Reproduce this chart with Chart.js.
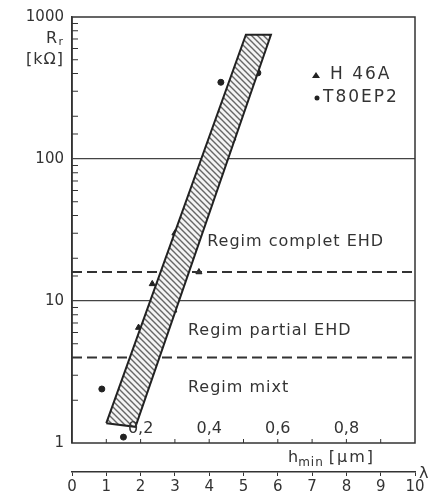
<!DOCTYPE html>
<html>
<head>
<meta charset="utf-8">
<script src="https://cdn.jsdelivr.net/npm/chart.js@4.4.0/dist/chart.umd.min.js"></script>
<style>
  html, body { margin: 0; padding: 0; background: #fff; }
  #wrap { position: relative; width: 433px; height: 497px; }
</style>
</head>
<body>
<div id="wrap"><canvas id="myChart" width="433" height="497"></canvas></div>
<script>
// axis ticks
const lambdaTicks = [0, 1, 2, 3, 4, 5, 6, 7, 8, 9, 10];
const hminValues = [0.2, 0.4, 0.6, 0.8];
const hminLabels = ['0,2', '0,4', '0,6', '0,8'];
const rLabels = [1, 10, 100, 1000];

// measured points, lambda vs Rr [kOhm]
const h46aLambda = [3.0, 3.7, 2.34, 2.97, 1.94, 4.69, 2.0];
const h46aR = [30, 16, 13.2, 8.6, 6.5, 140, 2.1];
const t80Lambda = [4.34, 5.42, 3.75, 0.87, 1.5];
const t80R = [347, 404, 65, 2.4, 1.1];

// hatched scatter band (closed outline)
const bandLambda = [1.0, 5.07, 5.8, 1.85, 1.0];
const bandR = [1.38, 750, 750, 1.3, 1.38];

// regime limits
const regimLimits = [16, 4];
const regimNames = ['Regim complet EHD', 'Regim partial EHD', 'Regim mixt'];

const FONT = 'DejaVu Sans';
const INK = '#333';

function pts(xs, ys) {
  return xs.map((x, i) => ({ x: x, y: ys[i] }));
}

function hatch() {
  const c = document.createElement('canvas');
  c.width = 6; c.height = 6;
  const g = c.getContext('2d');
  g.fillStyle = '#f4f4f4';
  g.fillRect(0, 0, 6, 6);
  g.strokeStyle = '#666';
  g.lineWidth = 1.4;
  g.beginPath();
  g.moveTo(-1, -1); g.lineTo(7, 7);
  g.moveTo(-1, 5); g.lineTo(1, 7);
  g.moveTo(5, -1); g.lineTo(7, 1);
  g.stroke();
  return g.createPattern(c, 'repeat');
}

const datasets = [
  {
    label: 'band',
    data: pts(bandLambda, bandR),
    showLine: true,
    fill: 'shape',
    backgroundColor: hatch(),
    borderColor: '#222',
    borderWidth: 2,
    pointRadius: 0,
    tension: 0,
  },
];
regimLimits.forEach((v) => {
  datasets.push({
    label: 'limit ' + v,
    data: [{ x: 0, y: v }, { x: 10, y: v }],
    showLine: true,
    borderColor: '#333',
    borderWidth: 2,
    borderDash: [10, 5],
    pointRadius: 0,
  });
});
datasets.push({
  label: 'H46A',
  data: pts(h46aLambda, h46aR),
  pointStyle: 'triangle',
  pointRadius: 3.5,
  backgroundColor: '#222',
  borderColor: '#222',
});
datasets.push({
  label: 'T80EP2',
  data: pts(t80Lambda, t80R),
  pointStyle: 'circle',
  pointRadius: 3,
  backgroundColor: '#222',
  borderColor: '#222',
});

function font(size) {
  return size + 'px "' + FONT + '"';
}

const decorations = {
  id: 'decorations',
  afterDraw(chart) {
    const ctx = chart.ctx;
    const a = chart.chartArea;
    const xs = chart.scales.x;
    const ys = chart.scales.y;
    const hs = chart.scales.h;
    ctx.save();
    ctx.strokeStyle = INK;
    ctx.lineWidth = 1.5;
    ctx.strokeRect(a.left, a.top, a.right - a.left, a.bottom - a.top);

    // minor ticks inside the left axis
    ctx.lineWidth = 1;
    ys.ticks.forEach((t) => {
      if (rLabels.includes(t.value)) return;
      const py = ys.getPixelForValue(t.value);
      ctx.beginPath();
      ctx.moveTo(a.left, py);
      ctx.lineTo(a.left + 6, py);
      ctx.stroke();
    });
    // small ticks inside the bottom (h_min) axis
    for (let i = 1; i < 10; i++) {
      const px = hs.getPixelForValue(i / 10);
      ctx.beginPath();
      ctx.moveTo(px, a.bottom);
      ctx.lineTo(px, a.bottom - 4);
      ctx.stroke();
    }

    ctx.fillStyle = INK;
    ctx.font = font(16);
    ctx.letterSpacing = '0px';
    ctx.textAlign = 'center';
    ctx.textBaseline = 'middle';
    hminValues.forEach((v, i) => {
      ctx.fillText(hminLabels[i], hs.getPixelForValue(v), a.bottom - 14);
    });

    // h_min [um]
    ctx.textAlign = 'left';
    ctx.textBaseline = 'alphabetic';
    let tx = 288;
    const ty = a.bottom + 19;
    ctx.fillText('h', tx, ty);
    tx += ctx.measureText('h').width;
    ctx.font = font(12);
    ctx.letterSpacing = '1px';
    ctx.fillText('min', tx, ty + 4);
    tx += ctx.measureText('min').width + 5;
    ctx.font = font(16);
    ctx.letterSpacing = '2px';
    ctx.fillText('[\u03BCm]', tx, ty);
    ctx.letterSpacing = '0px';

    // lambda
    ctx.fillText('\u03BB', 419, 478);

    // y title
    ctx.textAlign = 'right';
    ctx.fillText('R', 57, 43);
    ctx.font = font(11);
    ctx.fillText('r', 63, 45);
    ctx.font = font(16);
    ctx.letterSpacing = '1px';
    ctx.fillText('[k\u03A9]', 64, 64);

    // regime labels
    ctx.textAlign = 'left';
    ctx.textBaseline = 'middle';
    ctx.font = font(16);
    ctx.letterSpacing = '1px';
    ctx.fillText(regimNames[0], xs.getPixelForValue(3.94), ys.getPixelForValue(26));
    ctx.fillText(regimNames[1], xs.getPixelForValue(3.38), ys.getPixelForValue(6.15));
    ctx.fillText(regimNames[2], xs.getPixelForValue(3.38), ys.getPixelForValue(2.44));

    // legend
    ctx.font = font(17);
    ctx.letterSpacing = '2px';
    ctx.fillText('H 46A', 330, 75);
    ctx.fillText('T80EP2', 323, 98);
    ctx.letterSpacing = '0px';
    ctx.fillStyle = '#222';
    ctx.beginPath();
    ctx.moveTo(316, 72);
    ctx.lineTo(320, 78);
    ctx.lineTo(312, 78);
    ctx.closePath();
    ctx.fill();
    ctx.beginPath();
    ctx.arc(317, 98, 2.5, 0, Math.PI * 2);
    ctx.fill();
    ctx.restore();
  },
};

const ctx = document.getElementById('myChart').getContext('2d');
const myChart = new Chart(ctx, {
  type: 'scatter',
  data: { datasets: datasets },
  options: {
    responsive: false,
    animation: false,
    layout: { padding: { left: 0, right: 18, top: 17, bottom: 0 } },
    plugins: { legend: { display: false }, tooltip: { enabled: false } },
    scales: {
      x: {
        type: 'linear',
        position: 'bottom',
        weight: 1,
        min: 0,
        max: 10,
        afterFit: (s) => { s.height = 25; },
        border: { display: true, color: INK, width: 1.5 },
        grid: { drawOnChartArea: false, drawTicks: true, tickLength: 4, color: INK },
        ticks: {
          stepSize: 1,
          padding: 2,
          color: INK,
          font: { family: FONT, size: 15 },
          callback: (v) => (lambdaTicks.includes(v) ? String(v) : ''),
        },
      },
      h: {
        type: 'linear',
        position: 'bottom',
        weight: 0,
        min: 0,
        max: 1,
        afterFit: (s) => { s.height = 29; },
        border: { display: false },
        grid: { display: false },
        ticks: { display: false },
      },
      y: {
        type: 'logarithmic',
        min: 1,
        max: 1000,
        afterFit: (s) => { s.width = 72; },
        border: { display: true, color: INK, width: 1.5 },
        grid: {
          drawTicks: false,
          lineWidth: 1.3,
          color: (c) => (c.tick && (c.tick.value === 10 || c.tick.value === 100) ? '#444' : 'rgba(0,0,0,0)'),
        },
        ticks: {
          autoSkip: false,
          padding: 8,
          color: INK,
          font: { family: FONT, size: 15 },
          callback: (v) => (rLabels.includes(v) ? String(v) : ''),
        },
      },
    },
  },
  plugins: [decorations],
});
</script>
</body>
</html>
